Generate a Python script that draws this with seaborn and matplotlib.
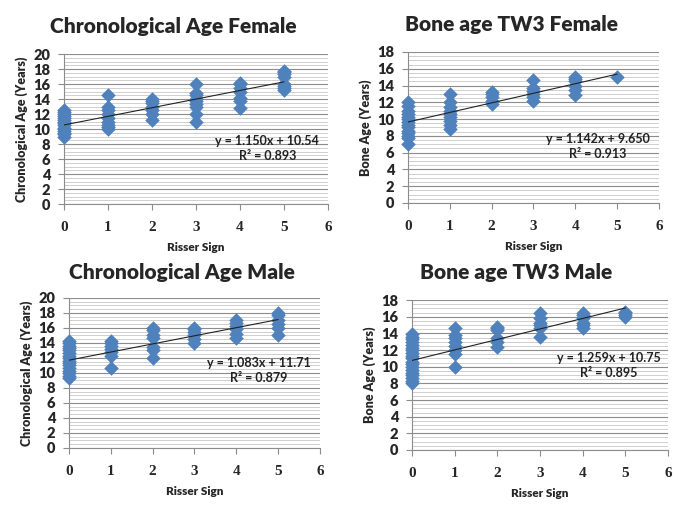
import matplotlib
matplotlib.use("Agg")
import matplotlib.pyplot as plt
import seaborn as sns
import pandas as pd
import numpy as np

# --- data (Risser sign -> ages in years) ---
risser = [0, 1, 2, 3, 4, 5]

chrono_female = {
    0: [9.0, 9.3, 9.5, 9.8, 10.0, 10.2, 10.5, 10.8, 11.0, 11.2, 11.5, 11.8, 12.0, 12.3, 12.5],
    1: [10.0, 10.3, 10.6, 11.0, 11.5, 12.0, 12.5, 13.0, 14.5],
    2: [11.2, 12.0, 12.5, 13.0, 13.5, 13.8, 14.0],
    3: [11.0, 12.0, 13.0, 13.3, 13.7, 14.0, 14.5, 14.8, 16.0],
    4: [12.8, 13.8, 14.2, 15.0, 15.5, 16.0, 16.2],
    5: [15.2, 15.5, 15.8, 16.0, 17.0, 17.3, 17.6, 17.8],
}
bone_female = {
    0: [7.0, 7.8, 8.0, 8.3, 8.6, 9.0, 9.3, 9.6, 10.0, 10.3, 10.6, 11.0, 11.5, 12.0],
    1: [8.8, 9.3, 9.8, 10.2, 10.6, 11.0, 11.4, 12.0, 13.0],
    2: [11.8, 12.2, 12.6, 13.0, 13.2],
    3: [12.2, 12.6, 13.0, 13.4, 13.7, 14.6],
    4: [12.9, 13.5, 14.0, 14.5, 14.8, 15.0],
    5: [15.0],
}
chrono_male = {
    0: [9.3, 9.6, 10.0, 10.3, 10.6, 11.0, 11.3, 11.6, 12.0, 12.3, 12.6, 13.0, 13.3, 13.6, 14.0, 14.2],
    1: [10.6, 12.2, 12.8, 13.2, 13.6, 14.0, 14.3],
    2: [12.0, 13.0, 13.5, 14.7, 15.0, 15.7, 16.0],
    3: [14.0, 14.5, 15.0, 15.5, 15.8, 16.0],
    4: [14.6, 15.2, 15.8, 16.3, 16.7, 17.0],
    5: [15.0, 16.0, 16.5, 17.0, 17.7, 18.0],
}
bone_male = {
    0: [8.0, 8.3, 8.6, 9.0, 9.3, 9.6, 10.0, 10.3, 10.6, 11.0, 11.3, 11.6, 12.0, 12.3, 12.6, 13.0, 13.3, 13.6, 13.9],
    1: [10.0, 11.5, 12.0, 12.5, 13.0, 13.5, 13.8, 14.7],
    2: [12.4, 13.0, 13.4, 14.4, 14.6, 14.8],
    3: [13.6, 14.6, 15.0, 15.3, 15.8, 16.5],
    4: [14.7, 15.0, 15.3, 15.8, 16.2, 16.5],
    5: [16.0, 16.2, 16.4, 16.6],
}

titles = ["Chronological Age Female", "Bone age TW3 Female",
          "Chronological Age Male", "Bone age TW3 Male"]
ylabels = ["Chronological Age (Years)", "Bone Age (Years)",
           "Chronological Age (Years)", "Bone Age (Years)"]
ymax = [20, 18, 20, 18]
slopes = [1.150, 1.142, 1.083, 1.259]
intercepts = [10.54, 9.650, 11.71, 10.75]
eq_text = ["y = 1.150x + 10.54\nR² = 0.893", "y = 1.142x + 9.650\nR² = 0.913",
           "y = 1.083x + 11.71\nR² = 0.879", "y = 1.259x + 10.75\nR² = 0.895"]
datasets = [chrono_female, bone_female, chrono_male, bone_male]

# layout (fractions of 685x517 figure)
rects = [[0.0934, 0.6054, 0.3854, 0.2901],
         [0.5956, 0.6074, 0.3664, 0.2921],
         [0.1007, 0.1335, 0.3664, 0.2901],
         [0.6015, 0.1296, 0.3737, 0.2901]]
title_pos = [(173, 27), (512, 25), (182, 272), (516, 272)]
eq_pos = [(0.77, 0.37), (0.757, 0.375), (0.757, 0.517), (0.77, 0.563)]

sns.set_style("white")
plt.rcParams['font.family'] = ['Lato', 'DejaVu Sans']

blue = "#4F81BD"
fig = plt.figure(figsize=(6.85, 5.17), dpi=100)

for i, data in enumerate(datasets):
    df = pd.DataFrame([(k, v) for k, vals in data.items() for v in vals],
                      columns=["risser", "age"])
    ax = fig.add_axes(rects[i])
    ax.set_axisbelow(True)
    sns.scatterplot(data=df, x="risser", y="age", ax=ax, marker="D",
                    color=blue, s=55, edgecolor=blue, linewidth=0, zorder=3,
                    clip_on=False)
    xs = np.array([risser[0], risser[-1]])
    ax.plot(xs, slopes[i] * xs + intercepts[i], color="#222222", lw=0.8, zorder=4)

    ax.set_xlim(0, 6)
    ax.set_ylim(0, ymax[i])
    ax.set_xticks(range(0, 7))
    ax.set_yticks(range(0, ymax[i] + 1, 2))
    ax.set_yticks(np.arange(0, ymax[i] + 0.01, 0.5), minor=True)
    ax.grid(which="major", axis="y", color="#8c8c8c", lw=0.8)
    ax.grid(which="minor", axis="y", color="#c8c8c8", lw=0.6)
    ax.grid(False, axis="x")
    for s in ["top", "right"]:
        ax.spines[s].set_visible(False)
    for s in ["left", "bottom"]:
        ax.spines[s].set_color("#8c8c8c")
        ax.spines[s].set_linewidth(0.8)
    ax.tick_params(axis="y", which="major", left=True, length=4, color="#8c8c8c", pad=6)
    ax.tick_params(axis="y", which="minor", left=False)
    ax.tick_params(axis="x", bottom=True, length=4, color="#8c8c8c", pad=8)
    for lab in ax.get_yticklabels():
        lab.set_fontweight("heavy")
        lab.set_fontsize(10.5)
    for lab in ax.get_xticklabels():
        lab.set_family("Liberation Serif")
        lab.set_fontweight("bold")
        lab.set_fontsize(11)

    ax.set_xlabel("Risser Sign", fontsize=8.5, fontweight="heavy", labelpad=6)
    ax.set_ylabel(ylabels[i], fontsize=9, fontweight="heavy", labelpad=4)

    ax.text(eq_pos[i][0], eq_pos[i][1], eq_text[i], transform=ax.transAxes,
            ha="center", va="center", fontsize=9, fontweight="bold",
            color="#222222", linespacing=1.25)

    tx, ty = title_pos[i]
    fig.text(tx / 685, 1 - ty / 517, titles[i], ha="center", va="center",
             fontsize=15, fontweight="heavy")

fig.savefig("out.png", dpi=100)
